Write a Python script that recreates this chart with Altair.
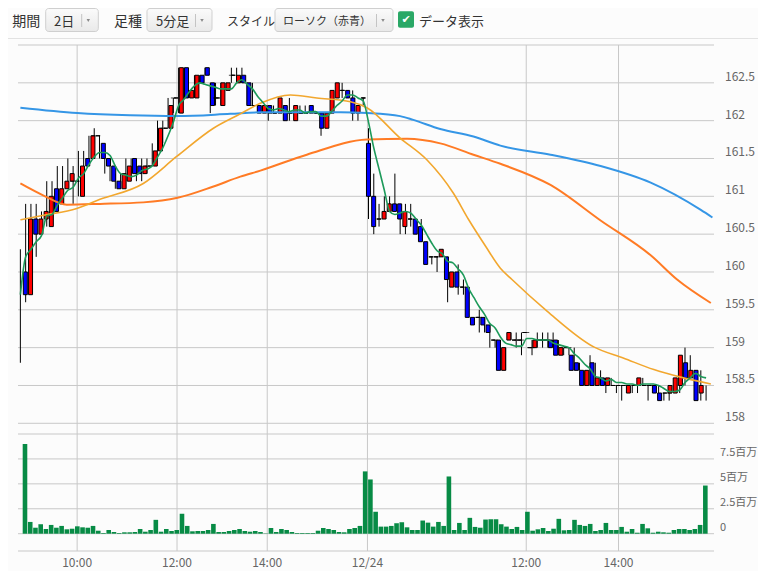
import altair as alt
import pandas as pd

FONT = "Noto Sans CJK JP"

# ---------------- data (5-minute bars, 2 sessions) ----------------
opens = [160.0, 159.7, 160.7, 160.5, 160.7, 160.6, 161.1, 160.9, 161.1, 161.2,
         161.2, 161.0, 161.5, 161.5, 161.8, 161.7, 161.5, 161.4, 161.2, 161.1,
         161.2, 161.5, 161.4, 161.3, 161.4, 161.4, 161.6, 161.9, 161.9, 162.3,
         162.1, 162.7, 162.3, 162.3, 162.6, 162.7, 162.5, 162.3, 162.2, 162.4,
         162.6, 162.5, 162.6, 162.5, 162.2, 162.2, 162.1, 162.2, 162.1, 162.1,
         162.2, 162.1, 162.0, 162.1, 162.1, 162.2, 162.1, 162.1, 161.9, 162.1,
         162.3, 162.4, 162.4, 162.3, 162.1, 162.3,
         161.7, 161.0, 160.7, 160.7, 160.8, 160.9, 160.9, 160.6, 160.7, 160.7,
         160.6, 160.4, 160.2, 160.2, 160.2, 160.2, 159.8, 160.0, 159.8, 159.8,
         159.4, 159.4, 159.4, 159.3, 159.1, 159.1, 158.7, 159.1, 159.1, 159.1,
         159.2, 159.0, 159.0, 159.1, 159.1, 159.1, 159.1, 158.9, 159.0, 158.9,
         158.8, 158.7, 158.5, 158.8, 158.5, 158.6, 158.5, 158.5, 158.5, 158.5,
         158.4, 158.5, 158.5, 158.5, 158.5, 158.5, 158.4, 158.4, 158.4, 158.4,
         158.5, 158.8, 158.6, 158.7, 158.4]
highs = [160.3, 160.9, 160.9, 160.9, 160.8, 161.2, 161.2, 161.4, 161.4, 161.5,
         161.4, 161.6, 161.6, 161.8, 161.9, 161.8, 161.6, 161.4, 161.3, 161.3,
         161.5, 161.5, 161.4, 161.5, 161.5, 161.7, 162.0, 162.0, 162.3, 162.3,
         162.7, 162.7, 162.4, 162.6, 162.6, 162.7, 162.5, 162.5, 162.5, 162.5,
         162.7, 162.7, 162.7, 162.5, 162.5, 162.2, 162.2, 162.2, 162.2, 162.3,
         162.2, 162.3, 162.2, 162.2, 162.2, 162.2, 162.1, 162.1, 162.1, 162.4,
         162.5, 162.5, 162.4, 162.4, 162.2, 162.3,
         161.9, 161.3, 160.9, 161.0, 161.0, 161.3, 160.9, 160.9, 160.9, 160.7,
         160.7, 160.4, 160.2, 160.2, 160.3, 160.2, 160.0, 160.1, 159.9, 159.8,
         159.4, 159.5, 159.4, 159.3, 159.1, 159.1, 159.0, 159.2, 159.2, 159.2,
         159.2, 159.1, 159.2, 159.2, 159.2, 159.2, 159.1, 159.0, 159.0, 159.0,
         158.8, 158.7, 158.9, 158.8, 158.7, 158.6, 158.6, 158.5, 158.5, 158.5,
         158.5, 158.5, 158.6, 158.5, 158.5, 158.5, 158.4, 158.4, 158.5, 158.6,
         159.0, 158.9, 158.7, 158.7, 158.5]
lows = [158.8, 159.6, 160.5, 160.2, 160.6, 160.6, 160.8, 160.9, 161.1, 161.2,
        160.9, 161.0, 161.4, 161.5, 161.7, 161.5, 161.3, 161.2, 161.1, 161.1,
        161.2, 161.3, 161.2, 161.2, 161.3, 161.4, 161.6, 161.7, 161.9, 162.1,
        162.1, 162.3, 162.3, 162.3, 162.5, 162.6, 162.1, 162.2, 162.2, 162.4,
        162.5, 162.5, 162.5, 162.2, 162.2, 162.1, 162.1, 162.0, 162.1, 162.1,
        162.0, 162.0, 162.0, 162.1, 162.1, 162.1, 162.1, 161.8, 161.9, 162.1,
        162.3, 162.3, 162.3, 162.0, 162.0, 162.2,
        160.7, 160.5, 160.6, 160.7, 160.8, 160.8, 160.5, 160.5, 160.6, 160.5,
        160.4, 160.1, 160.1, 160.0, 160.2, 159.6, 159.8, 159.7, 159.7, 159.4,
        159.3, 159.2, 159.2, 159.0, 159.0, 158.7, 158.7, 159.1, 159.0, 158.9,
        159.2, 158.9, 159.0, 159.0, 159.0, 159.0, 158.9, 158.9, 158.9, 158.7,
        158.7, 158.5, 158.5, 158.5, 158.5, 158.4, 158.5, 158.4, 158.3, 158.4,
        158.4, 158.4, 158.5, 158.3, 158.4, 158.4, 158.3, 158.3, 158.4, 158.4,
        158.5, 158.6, 158.6, 158.3, 158.3]
closes = [159.7, 160.7, 160.5, 160.7, 160.8, 161.0, 160.8, 161.1, 161.2, 161.3,
          161.2, 161.4, 161.4, 161.8, 161.8, 161.5, 161.4, 161.2, 161.1, 161.3,
          161.4, 161.3, 161.3, 161.4, 161.4, 161.6, 161.9, 161.9, 162.2, 162.3,
          162.7, 162.3, 162.4, 162.6, 162.5, 162.6, 162.2, 162.3, 162.5, 162.5,
          162.6, 162.6, 162.5, 162.2, 162.2, 162.1, 162.2, 162.1, 162.1, 162.3,
          162.0, 162.1, 162.2, 162.1, 162.1, 162.1, 162.1, 161.9, 162.1, 162.4,
          162.5, 162.4, 162.3, 162.1, 162.2, 162.3,
          161.0, 160.6, 160.7, 160.8, 160.9, 160.8, 160.7, 160.8, 160.7, 160.5,
          160.4, 160.1, 160.2, 160.2, 160.3, 159.9, 160.0, 159.8, 159.8, 159.4,
          159.3, 159.4, 159.3, 159.2, 159.1, 158.7, 159.0, 159.2, 159.1, 159.1,
          159.2, 159.0, 159.1, 159.1, 159.1, 159.0, 158.9, 159.0, 159.0, 158.7,
          158.7, 158.5, 158.7, 158.5, 158.6, 158.5, 158.6, 158.5, 158.5, 158.5,
          158.5, 158.5, 158.6, 158.5, 158.5, 158.4, 158.3, 158.4, 158.5, 158.6,
          158.9, 158.6, 158.7, 158.3, 158.5]
# volume in millions of shares
volumes = [9.0, 1.18, 0.6, 0.95, 0.47, 0.88, 0.6, 0.78, 0.44, 0.5,
           0.74, 0.64, 0.6, 0.78, 0.3, 0.07, 0.37, 0.17, 0.07, 0.14,
           0.14, 0.17, 0.47, 0.2, 0.37, 1.39, 0.2, 0.47, 0.27, 0.37,
           2.0, 0.78, 0.24, 0.27, 0.27, 0.37, 0.98, 0.17, 0.17, 0.27,
           0.37, 0.47, 0.27, 0.2, 0.27, 0.17, 0.03, 0.57, 0.17, 0.47,
           0.37, 0.17, 0.07, 0.07, 0.07, 0.07, 0.3, 0.57, 0.47, 0.37,
           0.17, 0.14, 0.47, 0.57, 0.78, 6.25,
           5.44, 2.2, 0.71, 0.71, 0.78, 1.05, 1.15, 0.64, 0.37, 0.37,
           1.32, 1.11, 0.71, 1.18, 0.78, 5.74, 0.37, 1.08, 0.37, 1.59,
           0.68, 0.6, 1.42, 1.45, 1.45, 0.95, 0.71, 0.47, 0.68, 0.37,
           2.2, 0.3, 0.44, 0.57, 0.27, 0.5, 1.49, 0.34, 0.37, 1.39,
           0.88, 0.78, 0.98, 0.27, 0.37, 1.08, 0.37, 0.37, 0.68, 0.2,
           0.47, 0.1, 0.98, 0.54, 0.1, 0.2, 0.14, 0.1, 0.37, 0.47,
           0.47, 0.37, 0.47, 0.88, 4.83]

# moving-average lines (bar position, price)
ma25_pos = [0, 4.4, 10.7, 15.1, 23.3, 29.7, 36.6, 41.7, 45.5, 51.2, 56.2, 62.6, 65.7,
            72.0, 77.1, 82.1, 85.0, 88.2, 91.0, 93.2, 99.9, 108.7, 114.4, 120.1, 125.2, 130.9]
ma25_val = [160.69, 160.75, 160.84, 160.96, 161.17, 161.53, 161.90, 162.09, 162.23, 162.34, 162.30, 162.25, 162.17,
            161.77, 161.48, 161.04, 160.69, 160.34, 160.05, 159.90, 159.48, 159.01, 158.86, 158.71, 158.61, 158.52]
ma75_pos = [0, 4.4, 8.8, 15.1, 23.3, 29.8, 36.6, 41.7, 45.5, 54.3, 65.7, 73.3, 79.6, 85.9, 91.0,
            100.5, 110.0, 119.5, 124.5, 130.9]
ma75_val = [161.17, 161.01, 160.89, 160.90, 160.92, 160.98, 161.13, 161.26, 161.34, 161.55, 161.75, 161.76, 161.70,
            161.55, 161.43, 161.15, 160.68, 160.22, 159.90, 159.59]
ma200_pos = [0, 10.8, 20.8, 29.7, 39.8, 45.5, 53.1, 60.7, 65.8, 72.0, 74.5, 79.6, 85.9, 91.0,
             100.5, 110.0, 119.5, 129.0, 131.2]
ma200_val = [162.17, 162.10, 162.07, 162.06, 162.09, 162.11, 162.11, 162.11, 162.10, 162.06, 162.01, 161.89, 161.79, 161.67,
             161.55, 161.40, 161.18, 160.82, 160.72]

price_grid = [158, 158.5, 159, 159.5, 160, 160.5, 161, 161.5, 162, 162.5, 163]
price_ticks = [158, 158.5, 159, 159.5, 160, 160.5, 161, 161.5, 162, 162.5]
price_labels = ["158", "158.5", "159", "159.5", "160", "160.5", "161", "161.5", "162", "162.5"]
vol_grid = [0, 2.5, 5, 7.5, 10]
vol_ticks = [0, 2.5, 5, 7.5]
vol_labels = ["0", "2.5百万", "5百万", "7.5百万"]
x_tick_pos = [10.76, 29.7, 46.8, 65.8, 95.9, 113.4]
x_tick_labels = ["10:00", "12:00", "14:00", "12/24", "12:00", "14:00"]

# ---------------- frames ----------------
n = len(opens)
candles = pd.DataFrame({"i": list(range(n)), "open": opens, "high": highs,
                        "low": lows, "close": closes, "vol": volumes})
candles["dir"] = ["up" if c > o else ("down" if c < o else "flat") for o, c in zip(opens, closes)]
ma25 = pd.DataFrame({"i": ma25_pos, "v": ma25_val})
ma75 = pd.DataFrame({"i": ma75_pos, "v": ma75_val})
ma200 = pd.DataFrame({"i": ma200_pos, "v": ma200_val})

W, H = 696, 506
xs = alt.Scale(domain=[-0.45, 131.5], nice=False, zero=False)
xv = alt.Scale(domain=[-0.38, 130.7], nice=False, zero=False)   # volume panel bars fill their slots
ps = alt.Scale(domain=[158, 163], range=[378.3, 0], nice=False, zero=False)
vs = alt.Scale(domain=[0, 10], range=[488.7, 389], nice=False, zero=False)
GRID = "#c8c8c8"

X = alt.X("i:Q", scale=xs, axis=None)

grid_p = alt.Chart(pd.DataFrame({"v": price_grid})).mark_rule(color=GRID, strokeWidth=1).encode(
    y=alt.Y("v:Q", scale=ps, axis=None), x=alt.value(0), x2=alt.value(W))
grid_v = alt.Chart(pd.DataFrame({"v": vol_grid})).mark_rule(color=GRID, strokeWidth=1).encode(
    y=alt.Y("v:Q", scale=vs, axis=None), x=alt.value(0), x2=alt.value(W))
grid_x = alt.Chart(pd.DataFrame({"t": x_tick_pos})).mark_rule(color=GRID, strokeWidth=1).encode(
    x=alt.X("t:Q", scale=xs, axis=None), y=alt.value(0), y2=alt.value(H))
bottom = alt.Chart(pd.DataFrame({"a": [0]})).mark_rule(color=GRID, strokeWidth=1).encode(
    x=alt.value(0), x2=alt.value(W), y=alt.value(H))
separator = alt.Chart(pd.DataFrame({"a": [0]})).mark_rule(color="#e2e2e2", strokeWidth=1).encode(
    x=alt.value(-10), x2=alt.value(740), y=alt.value(-6.5))

vol_bars = alt.Chart(candles).mark_bar(size=4.6, color="#078b45").encode(
    x=alt.X("i:Q", scale=xv, axis=None), y=alt.Y("vol:Q", scale=vs, axis=None), y2=alt.datum(0))

wicks = alt.Chart(candles).mark_rule(color="#000000", strokeWidth=1).encode(
    x=X, y=alt.Y("low:Q", scale=ps, axis=None), y2="high:Q")
bodies = alt.Chart(candles).mark_bar(size=4, stroke="#000000", strokeWidth=1).encode(
    x=X, y=alt.Y("open:Q", scale=ps, axis=None), y2="close:Q",
    color=alt.Color("dir:N", scale=alt.Scale(domain=["up", "down", "flat"],
                                             range=["#ff0000", "#0000ff", "#000000"]), legend=None))
dojis = alt.Chart(candles).transform_filter("datum.dir == 'flat'").mark_tick(
    orient="horizontal", size=5, thickness=1, color="#000000").encode(
    x=X, y=alt.Y("close:Q", scale=ps, axis=None))

line200 = alt.Chart(ma200).mark_line(color="#3596e6", strokeWidth=2, interpolate="monotone").encode(
    x=X, y=alt.Y("v:Q", scale=ps, axis=None))
line75 = alt.Chart(ma75).mark_line(color="#ff7b25", strokeWidth=2, interpolate="monotone").encode(
    x=X, y=alt.Y("v:Q", scale=ps, axis=None))
line25 = alt.Chart(ma25).mark_line(color="#f2a72e", strokeWidth=1.6, interpolate="monotone").encode(
    x=X, y=alt.Y("v:Q", scale=ps, axis=None))
line5 = alt.Chart(candles).transform_window(
    ma5="mean(close)", frame=[-4, 0], sort=[alt.SortField("i")]
).mark_line(color="#1d9a5a", strokeWidth=1.6, interpolate="monotone").encode(
    x=X, y=alt.Y("ma5:Q", scale=ps, axis=None))

price_lbl = alt.Chart(pd.DataFrame({"v": price_ticks, "t": price_labels})).mark_text(
    align="left", baseline="middle", dy=-6, fontSize=12, color="#666666", font=FONT).encode(
    y=alt.Y("v:Q", scale=ps, axis=None), x=alt.value(707), text="t:N")
vol_lbl = alt.Chart(pd.DataFrame({"v": vol_ticks, "t": vol_labels})).mark_text(
    align="left", baseline="middle", dy=-6, fontSize=11, color="#666666", font=FONT).encode(
    y=alt.Y("v:Q", scale=vs, axis=None), x=alt.value(702), text="t:N")
x_lbl = alt.Chart(pd.DataFrame({"t": x_tick_pos, "s": x_tick_labels})).mark_text(
    align="center", baseline="middle", fontSize=12, color="#666666", font=FONT).encode(
    x=alt.X("t:Q", scale=xs, axis=None), y=alt.value(518), text="s:N")

# ---------------- toolbar (page decoration) ----------------
btn = pd.DataFrame({"x": [27.7, 129, 257], "x2": [80.3, 194, 375], "y": [-36.5, -36.5, -36.5], "y2": [-13.5, -13.5, -13.5]})
buttons = alt.Chart(btn).mark_rect(
    cornerRadius=3, stroke="#cfcfcf", strokeWidth=1,
    fill=alt.Gradient(gradient="linear", x1=0, x2=0, y1=0, y2=1,
                      stops=[alt.GradientStop(color="#fbfbfb", offset=0),
                             alt.GradientStop(color="#e9e9e9", offset=1)])).encode(
    x=alt.X("x:Q", scale=None, axis=None), x2="x2:Q",
    y=alt.Y("y:Q", scale=None, axis=None), y2="y2:Q")
div = pd.DataFrame({"x": [63.7, 177.5, 358.5], "y": [-31, -31, -31], "y2": [-18, -18, -18]})
dividers = alt.Chart(div).mark_rule(color="#c4c4c4", strokeWidth=1).encode(
    x=alt.X("x:Q", scale=None, axis=None), y=alt.Y("y:Q", scale=None, axis=None), y2="y2:Q")
tri = pd.DataFrame({"x": [70.3, 184, 365], "y": [-24.5, -24.5, -24.5]})
arrows = alt.Chart(tri).mark_point(shape="triangle-down", filled=True, size=12, color="#8a8a8a", opacity=1).encode(
    x=alt.X("x:Q", scale=None, axis=None), y=alt.Y("y:Q", scale=None, axis=None))
ui_text = pd.DataFrame({
    "t": ["期間", "2日", "足種", "5分足", "スタイル", "ローソク（赤青）", "データ表示"],
    "x": [-5.7, 36, 96, 138, 209, 265, 401],
    "y": [-23.5] * 7,
    "fs": [14, 13, 14, 13, 12, 11, 13],
})
ui_texts = alt.Chart(ui_text).mark_text(align="left", baseline="middle", color="#333333", font=FONT).encode(
    x=alt.X("x:Q", scale=None, axis=None), y=alt.Y("y:Q", scale=None, axis=None),
    text="t:N", size=alt.Size("fs:Q", scale=None, legend=None))
chk = pd.DataFrame({"x": [380], "x2": [396], "y": [-33.7], "y2": [-17.3]})
checkbox = alt.Chart(chk).mark_rect(cornerRadius=2, fill="#2aa866").encode(
    x=alt.X("x:Q", scale=None, axis=None), x2="x2:Q",
    y=alt.Y("y:Q", scale=None, axis=None), y2="y2:Q")
checkmark = alt.Chart(pd.DataFrame({"t": ["✔"], "x": [388], "y": [-25.3]})).mark_text(
    align="center", baseline="middle", color="#ffffff", font="DejaVu Sans", fontSize=11).encode(
    x=alt.X("x:Q", scale=None, axis=None), y=alt.Y("y:Q", scale=None, axis=None), text="t:N")

chart = alt.layer(
    separator, grid_p, grid_v, grid_x, bottom, vol_bars,
    wicks, bodies, dojis,
    line200, line75, line25, line5,
    price_lbl, vol_lbl, x_lbl,
    buttons, dividers, arrows, ui_texts, checkbox, checkmark,
).resolve_scale(
    x="independent", y="independent", color="independent", size="independent"
).properties(
    width=W, height=H,
    autosize=alt.AutoSizeParams(type="none"),
    padding={"left": 10, "top": 37, "right": 44, "bottom": 20},
    background="#fcfcfc",
).configure_view(stroke=None)

chart.save("out.html", embed_options={"renderer": "svg", "actions": False})
